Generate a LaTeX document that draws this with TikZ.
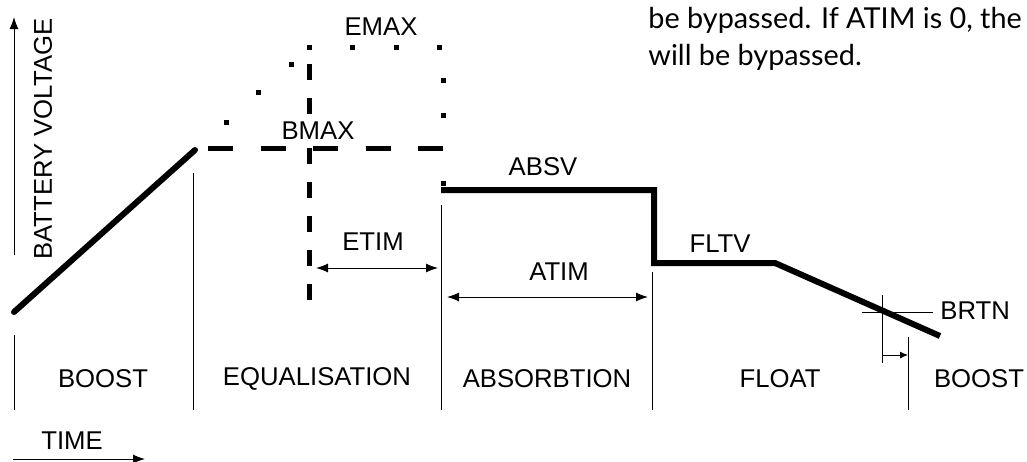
\documentclass[tikz,border=0pt]{standalone}
\usepackage{fontspec}
\setmainfont{Liberation Sans}
\newfontfamily\notefont{Lato}
\usetikzlibrary{arrows.meta}

\begin{document}
\begin{tikzpicture}[x=0.5pt, y=-0.5pt,
	lbl/.style={font=\fontsize{12.85}{15}\selectfont, inner sep=0pt},
	tline/.style={line width=0.5pt},
	curve/.style={line width=3pt},
	dim/.style={tline, {Latex[length=6pt,width=4.5pt]}-{Latex[length=6pt,width=4.5pt]}},
	hlimit/.style={line width=2.5pt, dash pattern=on 12.5pt off 13.75pt},
	vlimit/.style={line width=2.5pt, dash pattern=on 8pt off 9pt}]

	\useasboundingbox (0,0) rectangle (1027,461);
	\clip (0,0) rectangle (1027,461);

	% Achsen
	\coordinate (ybot) at (14,255);
	\coordinate (ytop) at (14,17);
	\draw[tline, -{Latex[length=6pt,width=4.5pt]}] (ybot) -- (ytop);
	\node[lbl, rotate=90] (vlabel) at (43,139) {BATTERY VOLTAGE};

	\coordinate (tleft) at (13,459);
	\coordinate (tright) at (145,459);
	\draw[tline, -{Latex[length=6pt,width=4.5pt]}] (tleft) -- (tright);
	\node[lbl] (tlabel) at (72,441) {TIME};

	% Phasen
	\foreach \x/\t in {14/335, 193/173, 441/205, 652/272, 908/337}
		\draw[tline] (\x,\t) -- (\x,410);

	\node[lbl] (boost) at (103,379) {BOOST};
	\node[lbl] (equal) at (317,379) {EQUALISATION};
	\node[lbl] (absorb) at (547,379) {ABSORBTION};
	\node[lbl] (float) at (780,379) {FLOAT};
	\node[lbl] (boostb) at (979,379) {BOOST};

	% Spannungsverlauf
	\coordinate (c0) at (14,312);
	\coordinate (c1) at (195,150);
	\draw[curve, line cap=round] (c0) -- (c1);

	\coordinate (a0) at (441,190);
	\coordinate (a1) at (654,190);
	\coordinate (a2) at (654,263);
	\coordinate (f1) at (775,263);
	\coordinate (f2) at (940,336);
	\draw[curve] (a0) -- (a1) -- (a2) -- (f1) -- (f2);

	% Grenzen
	\draw[hlimit] (208,148) -- (443,148);
	\draw[vlimit] (309,64) -- (309,115);
	\draw[vlimit] (309,148) -- (309,300);

	\foreach \x/\y in {226/122, 258/92, 291/64, 309/47, 352/47, 396/47, 439/47,
		443/80, 443/115, 443/183}
		\fill (\x-2.5,\y-2.5) rectangle (\x+2.5,\y+2.5);

	\node[lbl] (emax) at (381,27) {EMAX};
	\node[lbl] (bmax) at (318,131) {BMAX};
	\node[lbl] (absv) at (543,167) {ABSV};
	\node[lbl] (fltv) at (720,244) {FLTV};

	% Zeiten
	\coordinate (e0) at (316,268);
	\coordinate (e1) at (438,268);
	\draw[dim] (e0) -- (e1);
	\node[lbl] (etim) at (373,242) {ETIM};

	\coordinate (t0) at (447,297);
	\coordinate (t1) at (648,297);
	\draw[dim] (t0) -- (t1);
	\node[lbl] (atim) at (559,272) {ATIM};

	% Rueckkehr
	\coordinate (r0) at (862,312);
	\coordinate (r1) at (933,312);
	\draw[tline] (r0) -- (r1);
	\node[lbl, anchor=west] (brtn) at (940,311) {BRTN};
	\coordinate (s0) at (882,295);
	\coordinate (s1) at (882,363);
	\draw[tline] (s0) -- (s1);
	\coordinate (d0) at (882,355);
	\coordinate (d1) at (908,355);
	\draw[tline, -{Latex[length=4pt,width=3.5pt]}] (d0) -- (d1);

	% Text
	\node[anchor=north west, inner sep=0pt, align=left,
		font=\notefont\fontsize{14.4}{18.5}\selectfont] (note) at (648,7)
		{be bypassed. If ATIM is 0, the\\will be bypassed.};
\end{tikzpicture}
\end{document}
